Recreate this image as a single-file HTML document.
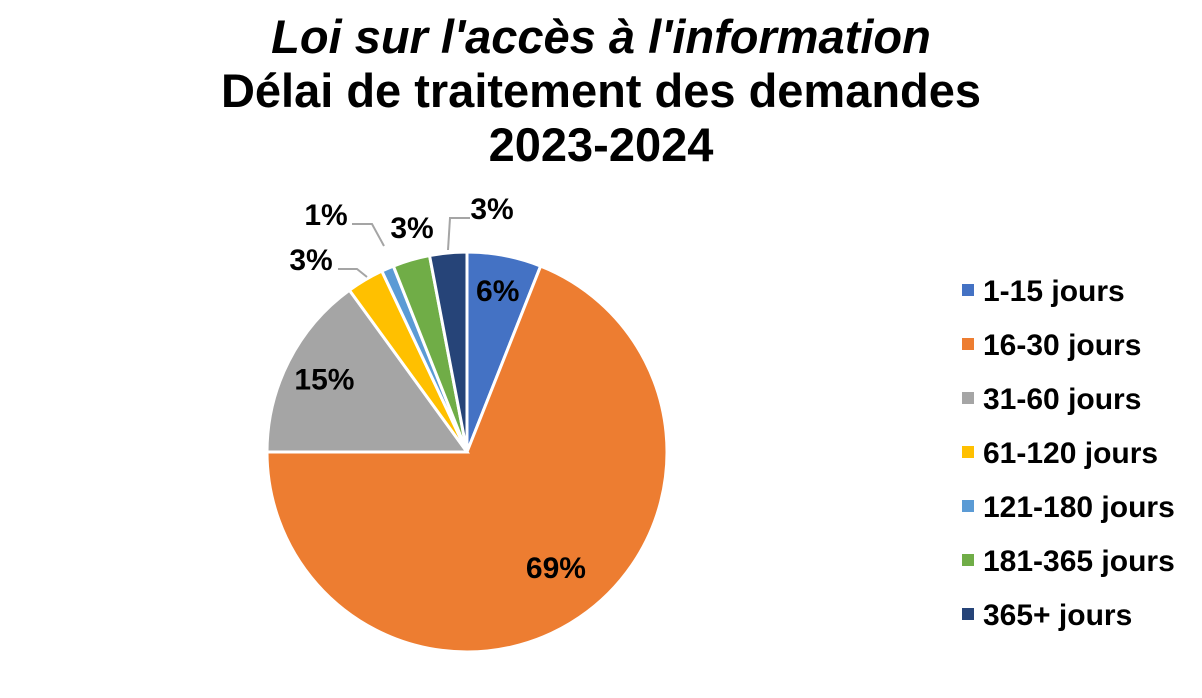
<!DOCTYPE html>
<html><head><meta charset="utf-8"><style>
body{margin:0;background:#fff;font-family:"Liberation Sans",Arial,sans-serif}
svg text{font-family:"Liberation Sans",Arial,sans-serif;font-weight:bold}
</style></head><body>
<svg width="1202" height="693">
<g text-anchor="middle" font-size="47">
<text x="601" y="53" font-style="italic">Loi sur l'accès à l'information</text>
<text x="601" y="107">Délai de traitement des demandes</text>
<text x="601" y="161">2023-2024</text>
</g>
<g id="slices"></g>
<g id="labels" font-size="30" fill="#000"></g>
<g id="legend" font-size="30"></g>
</svg>
<script>
const categories=["1-15 jours","16-30 jours","31-60 jours","61-120 jours","121-180 jours","181-365 jours","365+ jours"];
const values=[6,69,15,3,1,3,3];
const colors=["#4472C4","#ED7D31","#A5A5A5","#FFC000","#5B9BD5","#70AD47","#264478"];
const NS="http://www.w3.org/2000/svg";
const cx=467,cy=452,r=200;
const total=values.reduce((a,b)=>a+b,0);
const sg=document.getElementById('slices'),lg=document.getElementById('labels'),leg=document.getElementById('legend');
function pt(a,rr){return [cx+rr*Math.sin(a),cy-rr*Math.cos(a)];}
let acc=0;
const radFrac=[0.82,0.72,0.8];
const outside=[null,null,null,{x:311,y:270,line:"M338,269 L357,269 L367,277"},{x:326,y:225,line:"M352,224 L372,224 L384,246"},{x:412,y:238,line:null},{x:492,y:219,line:"M470,218 L450,218 L448,250"}];
values.forEach((v,i)=>{
  const a0=acc/total*2*Math.PI;acc+=v;const a1=acc/total*2*Math.PI;
  const [x0,y0]=pt(a0,r),[x1,y1]=pt(a1,r);
  const p=document.createElementNS(NS,'path');
  p.setAttribute('d',`M${cx},${cy} L${x0},${y0} A${r},${r} 0 ${a1-a0>Math.PI?1:0} 1 ${x1},${y1} Z`);
  p.setAttribute('fill',colors[i]);p.setAttribute('stroke','#fff');p.setAttribute('stroke-width','3');
  
  
  sg.appendChild(p);
  const t=document.createElementNS(NS,'text');
  t.setAttribute('text-anchor','middle');
  let tx,ty;
  if(outside[i]){tx=outside[i].x;ty=outside[i].y;
    if(outside[i].line){const l=document.createElementNS(NS,'path');l.setAttribute('d',outside[i].line);l.setAttribute('stroke','#A5A5A5');l.setAttribute('stroke-width','2');l.setAttribute('fill','none');
    
    
    lg.appendChild(l);}
  } else {const am=(a0+a1)/2;[tx,ty]=pt(am,r*radFrac[i]);ty+=10;if(i==1){tx+=8;ty-=3;}}
  t.setAttribute('x',tx);t.setAttribute('y',ty);t.textContent=v+'%';
  
  
  lg.appendChild(t);
  const ly=291+i*54;
  const s=document.createElementNS(NS,'rect');s.setAttribute('x',962);s.setAttribute('y',ly-7);s.setAttribute('width',12);s.setAttribute('height',12);s.setAttribute('fill',colors[i]);
  
  
  leg.appendChild(s);
  const lt=document.createElementNS(NS,'text');lt.setAttribute('x',983);lt.setAttribute('y',ly+10);lt.textContent=categories[i];
  
  
  leg.appendChild(lt);
});
</script>
</body></html>
